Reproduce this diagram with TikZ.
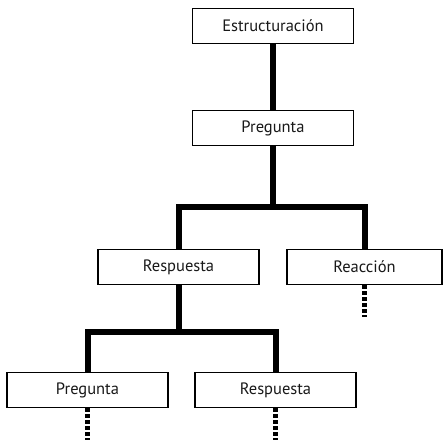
\documentclass[tikz,border=0pt]{standalone}
\usepackage{fontspec}
\setmainfont{PT Sans}
\tikzset{
  box/.style={draw,line width=1.6pt,fill=white,minimum width=161pt,minimum height=35pt,
    inner sep=0pt,text=black!90,font=\fontsize{16.5}{18}\selectfont},
  tail/.style={line width=5.5pt,dash pattern=on 4pt off 2pt}
}
\begin{document}
\begin{tikzpicture}[
    x=1pt,y=1pt,
    line width=6pt,
    level 1/.style={level distance=102pt},
    level 2/.style={level distance=139pt,sibling distance=189pt,
      edge from parent path={(\tikzparentnode.south) -- ++(0,-61pt) -| (\tikzchildnode.north)}},
    level 3/.style={level distance=123pt,sibling distance=188pt,
      edge from parent path={(\tikzparentnode.south) -- ++(0,-47pt) -| (\tikzchildnode.north)}}
  ]
  \useasboundingbox (0,0) rectangle (444,-440);
  \node (root) [box] at (273,-26) {Estructuración}
  child {node (preg) [box] {Pregunta}
    child {node (resp) [box] {Respuesta}
      child {node (preg2) [box,xshift=3pt] {Pregunta}}
      child {node (resp2) [box,xshift=3pt] {Respuesta}}
    }
    child {node (reac) [box,minimum width=155pt,xshift=-3pt] {Reacción}}
  };
  % open ends
  \path (reac.south) ++(0,-32) coordinate (reacend);
  \path (preg2.south) ++(0,-32) coordinate (preg2end);
  \path (resp2.south) ++(0,-32) coordinate (resp2end);
  \draw[tail] (reac.south) -- (reacend);
  \draw[tail] (preg2.south) -- (preg2end);
  \draw[tail] (resp2.south) -- (resp2end);
\end{tikzpicture}
\end{document}
